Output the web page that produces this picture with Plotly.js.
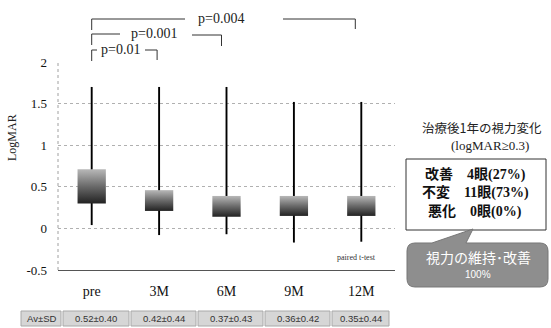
<!DOCTYPE html>
<html>
<head>
<meta charset="utf-8">
<script src="https://cdn.plot.ly/plotly-3.0.1.min.js"></script>
<style>html,body{margin:0;padding:0;background:#fff;}#chart{width:551px;height:328px;}</style>
</head>
<body>
<div id="chart"></div>
<script>
// ---- data ----
var categories = ['pre', '3M', '6M', '9M', '12M'];
var whiskerHigh = [1.70, 1.70, 1.70, 1.52, 1.52];
var whiskerLow = [0.04, -0.08, -0.07, -0.17, -0.16];
var boxHigh = [0.71, 0.46, 0.39, 0.39, 0.39];
var boxLow = [0.30, 0.21, 0.14, 0.15, 0.15];
var tableHeader = 'Av±SD';
var avSD = ['0.52±0.40', '0.42±0.44', '0.37±0.43', '0.36±0.42', '0.35±0.44'];
var yTicks = [2, 1.5, 1, 0.5, 0, -0.5];
var pValues = ['p=0.01', 'p=0.001', 'p=0.004'];
var resultTitle = '治療後1年の視力変化';
var resultSub = '(logMAR≥0.3)';
var resultRows = ['改善　4眼(27%)', '不変　11眼(73%)', '悪化　0眼(0%)'];
var calloutText = ['視力の維持･改善', '100%'];

// ---- layout geometry (pixels) ----
var W = 551, H = 328;
var L = 58, R = 395, T = 62, B = 270;
function px(x) { return (x - L) / (R - L); }
function py(y) { return (B - y) / (B - T); }
function catX(i) { return (i + 0.5) / categories.length; }

var idx = categories.map(function (c, i) { return i; });
var serif = 'Liberation Serif, Times New Roman, serif';
var traces = [];

// whiskers
var wx = [], wy = [];
idx.forEach(function (i) { wx.push(i, i, null); wy.push(whiskerLow[i], whiskerHigh[i], null); });
traces.push({type: 'scatter', mode: 'lines', x: wx, y: wy, line: {color: '#000', width: 1.9}, hoverinfo: 'skip', showlegend: false});

// boxes with vertical gradient
var hw = 0.21;
idx.forEach(function (i) {
  traces.push({
    type: 'scatter', mode: 'lines',
    x: [i - hw, i + hw, i + hw, i - hw, i - hw],
    y: [boxLow[i], boxLow[i], boxHigh[i], boxHigh[i], boxLow[i]],
    fill: 'toself',
    fillgradient: {type: 'vertical', colorscale: [[0, '#222222'], [0.5, '#6a6a6a'], [1, '#b8b8b8']]},
    line: {width: 0, color: 'rgba(0,0,0,0)'},
    hoverinfo: 'skip', showlegend: false
  });
});

var shapes = [];
var annotations = [];
function seg(x0, y0, x1, y1, c, w) {
  shapes.push({type: 'line', xref: 'paper', yref: 'paper', x0: px(x0), y0: py(y0), x1: px(x1), y1: py(y1), line: {color: c || '#333', width: w || 1}});
}
var cx = idx.map(function (i) { return L + catX(i) * (R - L); });

// dotted left axis line
shapes.push({type: 'line', xref: 'paper', yref: 'paper', x0: 0, x1: 0, y0: 0, y1: 1, line: {color: '#a0a0a0', width: 1, dash: 'dot'}});

// p-value brackets
seg(cx[0], 50, cx[0], 61); seg(cx[0], 50, 97, 50); seg(145, 50, cx[1] - 2, 50); seg(cx[1] - 2, 50, cx[1] - 2, 60);
seg(cx[0], 34, cx[0], 45); seg(cx[0], 34, 120, 34); seg(192, 35, cx[2] - 5, 35); seg(cx[2] - 5, 35, cx[2] - 5, 46);
seg(cx[0], 19, cx[0], 30); seg(cx[0], 19, 185, 19); seg(283, 19, cx[4] - 6, 19); seg(cx[4] - 6, 19, cx[4] - 6, 29);
var pPos = [[120, 49], [154, 33], [221, 18]];
pValues.forEach(function (t, k) {
  annotations.push({xref: 'paper', yref: 'paper', x: px(pPos[k][0]), y: py(pPos[k][1]), text: t, showarrow: false,
    xanchor: 'center', yanchor: 'middle', font: {family: serif, size: 14, color: '#222'}});
});

// y axis title
annotations.push({xref: 'paper', yref: 'paper', x: px(12), y: py(138), text: 'LogMAR', textangle: -90, showarrow: false,
  xanchor: 'center', yanchor: 'middle', font: {family: serif, size: 12, color: '#222'}});

// paired t-test
annotations.push({xref: 'paper', yref: 'paper', x: px(356), y: py(257), text: 'paired t-test', showarrow: false,
  xanchor: 'center', yanchor: 'middle', font: {family: serif, size: 8, color: '#333'}});

// table
var cellEdges = [20, 62, 130, 197, 264, 331, 390];
var cellTexts = [tableHeader].concat(avSD);
for (var k = 0; k < cellTexts.length; k++) {
  shapes.push({type: 'rect', xref: 'paper', yref: 'paper', x0: px(cellEdges[k] + 1), x1: px(cellEdges[k + 1] - 1), y0: py(326), y1: py(311),
    fillcolor: '#d6d6d6', line: {color: '#a8a8a8', width: 1}});
  annotations.push({xref: 'paper', yref: 'paper', x: px((cellEdges[k] + cellEdges[k + 1]) / 2), y: py(318.5), text: cellTexts[k], showarrow: false,
    xanchor: 'center', yanchor: 'middle', font: {family: 'Liberation Sans, Arial, sans-serif', size: 9.5, color: '#333'}});
}

// right side text
var cjk = 'Noto Sans CJK JP, sans-serif';
annotations.push({xref: 'paper', yref: 'paper', x: px(482), y: py(127), text: resultTitle, showarrow: false,
  xanchor: 'center', yanchor: 'middle', font: {family: cjk, size: 12.5, color: '#222'}});
annotations.push({xref: 'paper', yref: 'paper', x: px(490), y: py(145), text: resultSub, showarrow: false,
  xanchor: 'center', yanchor: 'middle', font: {family: serif, size: 13, color: '#222'}});
shapes.push({type: 'rect', xref: 'paper', yref: 'paper', x0: px(406), x1: px(546), y0: py(230), y1: py(159),
  fillcolor: '#fff', line: {color: '#333', width: 1}});
var rowY = [174, 193, 212];
resultRows.forEach(function (t, k) {
  annotations.push({xref: 'paper', yref: 'paper', x: px(475), y: py(rowY[k]), text: '<b>' + t + '</b>', showarrow: false,
    xanchor: 'center', yanchor: 'middle', font: {family: 'Liberation Serif, Noto Sans CJK JP, serif', size: 14, color: '#111'}});
});

// callout
var x0 = 407, x1 = 548, y0 = 243, y1 = 287, r = 8;
function P(x, y) { return px(x).toFixed(5) + ',' + py(y).toFixed(5); }
var path = 'M' + P(x0 + r, y0) + ' L' + P(432, y0) + ' L' + P(473, 229) + ' L' + P(466, y0) + ' L' + P(x1 - r, y0) +
  ' Q' + P(x1, y0) + ' ' + P(x1, y0 + r) + ' L' + P(x1, y1 - r) + ' Q' + P(x1, y1) + ' ' + P(x1 - r, y1) +
  ' L' + P(x0 + r, y1) + ' Q' + P(x0, y1) + ' ' + P(x0, y1 - r) + ' L' + P(x0, y0 + r) + ' Q' + P(x0, y0) + ' ' + P(x0 + r, y0) + ' Z';
shapes.push({type: 'path', xref: 'paper', yref: 'paper', path: path, fillcolor: '#8e8e8e', line: {color: '#777', width: 1}});
annotations.push({xref: 'paper', yref: 'paper', x: px(478), y: py(257), text: calloutText[0], showarrow: false,
  xanchor: 'center', yanchor: 'middle', font: {family: cjk, size: 14, color: '#fff'}});
annotations.push({xref: 'paper', yref: 'paper', x: px(478), y: py(274), text: calloutText[1], showarrow: false,
  xanchor: 'center', yanchor: 'middle', font: {family: 'Liberation Sans, sans-serif', size: 10, color: '#fff'}});

var layout = {
  width: W, height: H,
  margin: {l: L, r: W - R, t: T, b: H - B, pad: 0},
  paper_bgcolor: '#fff', plot_bgcolor: '#fff',
  showlegend: false,
  xaxis: {
    range: [-0.5, categories.length - 0.5], tickvals: idx, ticktext: categories,
    showgrid: false, zeroline: false, showline: true, linecolor: '#555', linewidth: 1,
    ticks: '', ticklabelstandoff: 8, tickfont: {family: serif, size: 14, color: '#111'}, fixedrange: true
  },
  yaxis: {
    range: [-0.5, 2], tickvals: yTicks, ticktext: yTicks.map(String),
    showgrid: true, gridcolor: '#b0b0b0', griddash: 'dot', gridwidth: 1,
    zeroline: false, showline: false,
    ticks: '', ticklabelstandoff: 10, tickfont: {family: serif, size: 13, color: '#111'}, fixedrange: true
  },
  shapes: shapes,
  annotations: annotations
};
Plotly.newPlot('chart', traces, layout, {displayModeBar: false, staticPlot: true});
</script>
</body>
</html>
